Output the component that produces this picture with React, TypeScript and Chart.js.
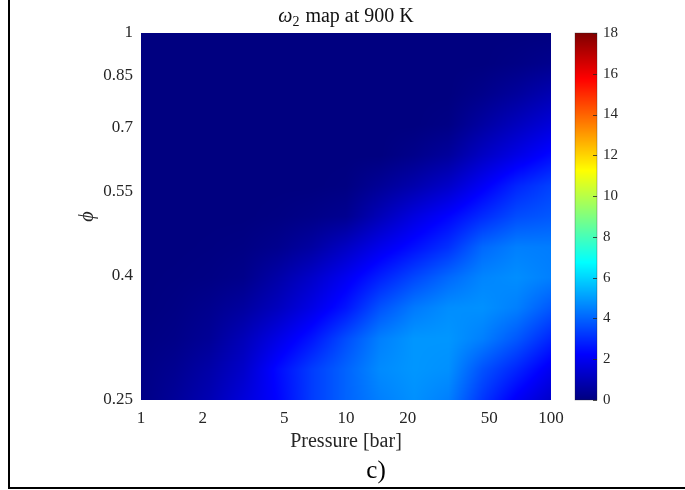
import React, { useEffect, useRef } from "react";
import { Chart, registerables } from "chart.js";

Chart.register(...registerables);

// Grid of the map: pressure columns (bar) and equivalence-ratio rows
const pressures = [1, 1.468, 2.154, 3.162, 4.642, 6.813, 10, 14.68, 21.54, 31.62, 46.42, 68.13, 100];
const phis = [0.25, 0.281, 0.315, 0.354, 0.397, 0.445, 0.5, 0.561, 0.63, 0.707, 0.794, 0.891, 1];
// omega_2 values: one row per phi (bottom to top), one column per pressure
const omega2 = [
  [0.1, 0.45, 0.9, 1.6, 2.3, 3.3, 4.0, 4.5, 4.8, 4.5, 3.2, 2.1, 1.3],
  [0.1, 0.3, 0.7, 1.3, 2.4, 3.3, 4.0, 4.7, 4.9, 4.8, 3.7, 2.9, 2.0],
  [0.05, 0.15, 0.4, 1.0, 1.8, 2.6, 3.6, 4.5, 4.9, 4.9, 4.5, 3.8, 2.9],
  [0, 0.08, 0.25, 0.55, 1.1, 1.8, 2.6, 3.7, 4.4, 4.75, 4.8, 4.5, 3.8],
  [0, 0.03, 0.08, 0.2, 0.7, 1.3, 2.0, 2.8, 3.5, 4.1, 4.6, 4.75, 4.5],
  [0, 0, 0.03, 0.08, 0.25, 0.6, 1.2, 1.9, 2.5, 3.1, 4.1, 4.5, 4.45],
  [0, 0, 0, 0, 0.05, 0.15, 0.3, 1.0, 1.7, 2.3, 3.0, 3.6, 3.8],
  [0, 0, 0, 0, 0, 0, 0.05, 0.4, 0.8, 1.3, 2.1, 2.9, 3.4],
  [0, 0, 0, 0, 0, 0, 0, 0, 0.2, 0.5, 1.2, 1.8, 2.4],
  [0, 0, 0, 0, 0, 0, 0, 0, 0, 0.1, 0.6, 1.1, 1.6],
  [0, 0, 0, 0, 0, 0, 0, 0, 0, 0, 0.2, 0.5, 0.9],
  [0, 0, 0, 0, 0, 0, 0, 0, 0, 0, 0, 0.1, 0.25],
  [0, 0, 0, 0, 0, 0, 0, 0, 0, 0, 0, 0, 0],
];

const xTicks = [1, 2, 5, 10, 20, 50, 100];
const yTicks = [0.25, 0.4, 0.55, 0.7, 0.85, 1];
const cMin = 0;
const cMax = 18;
const cStep = 2;

const FAMILY = "'Liberation Serif', 'Times New Roman', serif";
const TEXT = "#262626";

function jet(v: number): [number, number, number] {
  let t = (v - cMin) / (cMax - cMin);
  t = Math.max(0, Math.min(1, t));
  const c = (x: number) => Math.round(255 * Math.max(0, Math.min(1, x)));
  return [c(1.5 - Math.abs(4 * t - 3)), c(1.5 - Math.abs(4 * t - 2)), c(1.5 - Math.abs(4 * t - 1))];
}

function locate(arr: number[], val: number): [number, number] {
  const n = arr.length;
  if (val <= arr[0]) return [0, 0];
  if (val >= arr[n - 1]) return [n - 2, 1];
  for (let i = 0; i < n - 1; i++) {
    if (val <= arr[i + 1]) return [i, (val - arr[i]) / (arr[i + 1] - arr[i])];
  }
  return [n - 2, 1];
}

const heatPlugin = {
  id: "heatmap",
  beforeDatasetsDraw(chart: any) {
    const { ctx, chartArea: a, scales } = chart;
    const xs = scales.x;
    const ys = scales.y;
    const W = Math.round(a.right - a.left);
    const H = Math.round(a.bottom - a.top);
    const off = document.createElement("canvas");
    off.width = W;
    off.height = H;
    const octx = off.getContext("2d")!;
    const img = octx.createImageData(W, H);
    const lx = pressures.map((p) => Math.log10(p));
    const ly = phis.map((p) => Math.log10(p));
    const colIdx: [number, number][] = [];
    for (let px = 0; px < W; px++) {
      const P = xs.getValueForPixel(a.left + px + 0.5);
      colIdx.push(locate(lx, Math.log10(P)));
    }
    for (let py = 0; py < H; py++) {
      const ph = ys.getValueForPixel(a.top + py + 0.5);
      const [j, ty] = locate(ly, Math.log10(ph));
      const r0 = omega2[j];
      const r1 = omega2[j + 1];
      for (let px = 0; px < W; px++) {
        const [i, tx] = colIdx[px];
        const v =
          (1 - tx) * (1 - ty) * r0[i] +
          tx * (1 - ty) * r0[i + 1] +
          (1 - tx) * ty * r1[i] +
          tx * ty * r1[i + 1];
        const [r, g, b] = jet(v);
        const k = (py * W + px) * 4;
        img.data[k] = r;
        img.data[k + 1] = g;
        img.data[k + 2] = b;
        img.data[k + 3] = 255;
      }
    }
    octx.putImageData(img, 0, 0);
    ctx.save();
    ctx.drawImage(off, a.left, a.top);
    ctx.restore();
  },
  afterDraw(chart: any) {
    const { ctx, chartArea: a, scales } = chart;
    const cs = scales.c;
    // colour bar
    const x0 = a.right + 24;
    const bw = 22;
    const top = cs.getPixelForValue(cMax);
    const bot = cs.getPixelForValue(cMin);
    ctx.save();
    for (let py = Math.floor(top); py < Math.ceil(bot); py++) {
      const v = cs.getValueForPixel(py + 0.5);
      const [r, g, b] = jet(v);
      ctx.fillStyle = `rgb(${r},${g},${b})`;
      ctx.fillRect(x0, py, bw, 1);
    }
    ctx.strokeStyle = "rgba(38,38,38,0.5)";
    ctx.lineWidth = 0.6;
    ctx.strokeRect(x0, top, bw, bot - top);
    ctx.strokeStyle = "#262626";
    ctx.lineWidth = 0.8;
    for (let v = cMin; v <= cMax; v += cStep) {
      const y = Math.round(cs.getPixelForValue(v)) + 0.5;
      ctx.beginPath();
      ctx.moveTo(x0 + bw - 4, y);
      ctx.lineTo(x0 + bw, y);
      ctx.stroke();
    }
    // title with subscript
    const cx = (a.left + a.right) / 2;
    const ty = 17;
    const fMain = `20px ${FAMILY}`;
    const fIt = `italic 20px ${FAMILY}`;
    const fSub = `14px ${FAMILY}`;
    ctx.textBaseline = "middle";
    ctx.fillStyle = "#111";
    ctx.font = fIt;
    const w1 = ctx.measureText("ω").width;
    ctx.font = fSub;
    const w2 = ctx.measureText("2").width;
    ctx.font = fMain;
    const rest = " map at 900 K";
    const w3 = ctx.measureText(rest).width;
    let sx = cx - (w1 + w2 + 1 + w3) / 2;
    ctx.textAlign = "left";
    ctx.font = fIt;
    ctx.fillText("ω", sx, ty);
    sx += w1;
    ctx.font = fSub;
    ctx.fillText("2", sx, ty + 5);
    sx += w2 + 1;
    ctx.font = fMain;
    ctx.fillText(rest, sx, ty);
    // panel tag
    ctx.font = `25px ${FAMILY}`;
    ctx.textAlign = "center";
    ctx.fillStyle = "#000";
    ctx.fillText("c)", 376, 471);
    ctx.restore();
  },
};

export default function App() {
  const ref = useRef<HTMLCanvasElement>(null);
  useEffect(() => {
    const points: { x: number; y: number; v: number }[] = [];
    phis.forEach((ph, j) => pressures.forEach((p, i) => points.push({ x: p, y: ph, v: omega2[j][i] })));
    const chart = new Chart(ref.current!, {
      type: "scatter",
      data: {
        datasets: [
          {
            label: "omega2",
            data: points,
            pointRadius: 0,
            pointHoverRadius: 0,
            xAxisID: "x",
            yAxisID: "y",
          } as any,
        ],
      },
      options: {
        responsive: false,
        animation: false,
        devicePixelRatio: 1,
        layout: { padding: { top: 33, left: 0, right: 0, bottom: 0 } },
        plugins: { legend: { display: false }, tooltip: { enabled: false }, title: { display: false } },
        events: [],
        scales: {
          x: {
            type: "logarithmic",
            position: "bottom",
            min: 1,
            max: 100,
            afterBuildTicks: (axis: any) => {
              axis.ticks = xTicks.map((v) => ({ value: v }));
            },
            afterFit: (axis: any) => {
              axis.height = 90;
              axis.paddingLeft = 0;
              axis.paddingRight = 0;
            },
            ticks: {
              autoSkip: false,
              maxRotation: 0,
              padding: 8,
              color: TEXT,
              font: { family: FAMILY, size: 17 },
              callback: (v: any) => String(v),
            },
            grid: { display: false, drawTicks: false },
            border: { display: false },
            title: {
              display: true,
              text: "Pressure [bar]",
              color: TEXT,
              font: { family: FAMILY, size: 20 },
              padding: { top: 0, bottom: 36 },
            },
          },
          y: {
            type: "logarithmic",
            position: "left",
            min: 0.25,
            max: 1,
            afterBuildTicks: (axis: any) => {
              axis.ticks = yTicks.map((v) => ({ value: v }));
            },
            afterFit: (axis: any) => {
              axis.width = 141;
              axis.paddingTop = 0;
              axis.paddingBottom = 0;
            },
            ticks: {
              autoSkip: false,
              padding: 8,
              color: TEXT,
              font: { family: FAMILY, size: 17 },
              callback: (v: any) => String(v),
            },
            grid: { display: false, drawTicks: false },
            border: { display: false },
            title: {
              display: true,
              text: "ϕ",
              color: TEXT,
              font: { family: FAMILY, size: 20, style: "italic" },
              padding: { top: 76, bottom: 0 },
            },
          },
          c: {
            type: "linear",
            position: "right",
            min: cMin,
            max: cMax,
            afterFit: (axis: any) => {
              axis.width = 134;
              axis.paddingTop = 0;
              axis.paddingBottom = 0;
            },
            ticks: {
              stepSize: cStep,
              padding: 52,
              color: TEXT,
              font: { family: FAMILY, size: 15 },
            },
            grid: { display: false, drawTicks: false },
            border: { display: false },
          },
        },
      } as any,
      plugins: [heatPlugin],
    });
    return () => chart.destroy();
  }, []);
  return (
    <div style={{ position: "fixed", left: 0, top: 0, width: 685, height: 490, background: "#fff", overflow: "hidden" }}>
      <canvas ref={ref} width={685} height={490} style={{ position: "absolute", left: 0, top: 0, width: 685, height: 490 }} />
      <div style={{ position: "absolute", left: 8, top: 0, width: 2, height: 489, background: "#000" }} />
      <div style={{ position: "absolute", left: 8, top: 487, width: 677, height: 2, background: "#000" }} />
    </div>
  );
}
